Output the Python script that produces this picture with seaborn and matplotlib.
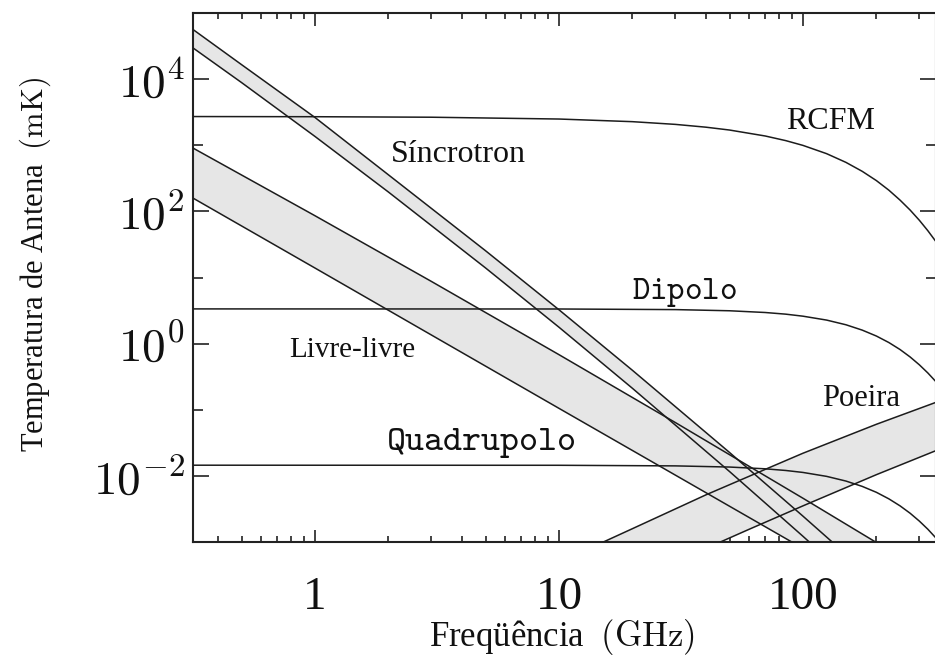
import matplotlib
matplotlib.use("Agg")
import matplotlib.pyplot as plt
from matplotlib.ticker import FixedLocator, FixedFormatter, NullFormatter
import seaborn as sns

# ---------------- data ----------------
freq_rcfm = [0.316, 1, 3, 10, 20, 30, 40, 50, 70, 85, 100, 125, 150, 175,
             200, 225, 250, 275, 300, 325, 350]
rcfm = [2717, 2701, 2654, 2492, 2273, 2068, 1876, 1699, 1381, 1175, 995, 746,
        551, 403, 292, 209, 148, 104.6, 73.3, 51.0, 35.3]

freq_multipolo = [0.316, 10, 30, 50, 70, 85, 100, 125, 150, 175, 200, 225,
                  250, 275, 300, 325, 350]
dipolo = [3.35, 3.34, 3.27, 3.14, 2.956, 2.79, 2.60, 2.27, 1.929, 1.60, 1.302,
          1.038, 0.814, 0.628, 0.478, 0.360, 0.268]
quadrupolo = [0.0145, 0.01446, 0.01416, 0.0136, 0.01279, 0.01207, 0.01127,
              0.00983, 0.00835, 0.00693, 0.00564, 0.00449, 0.00352, 0.00272,
              0.00207, 0.00156, 0.00116]

freq_sincrotron = [0.316, 0.5, 1, 2, 5, 10, 20, 50, 100, 150]
sincrotron_alto = [56400, 16560, 2630, 357, 25.4, 3.25, 0.395, 0.0226,
                   0.00246, 0.000655]
sincrotron_baixo = [29700, 8870, 1358, 196, 13.95, 1.77, 0.211, 0.01164,
                    0.00122, 0.000317]

freq_livre_alto = [0.316, 1, 3, 10, 30, 100, 350]
livre_alto = [908, 85.9, 8.72, 0.681, 0.064, 0.00459, 0.000283]
freq_livre_baixo = [0.316, 1, 3, 10, 30, 100]
livre_baixo = [159, 13.9, 1.35, 0.105, 0.01026, 0.0008]

freq_poeira_alto = [14, 20, 40, 70, 100, 200, 350]
poeira_alto = [0.00087, 0.00159, 0.00516, 0.01253, 0.0220, 0.0603, 0.129]
freq_poeira_baixo = [40, 60, 100, 200, 350]
poeira_baixo = [0.0008, 0.00155, 0.00352, 0.01043, 0.024]

x_ticks = [1, 10, 100]
x_tick_labels = ["1", "10", "100"]
x_minor = [0.4, 0.5, 0.6, 0.7, 0.8, 0.9, 2, 3, 4, 5, 6, 7, 8, 9,
           20, 30, 40, 50, 60, 70, 80, 90, 200, 300]
y_ticks = [1e-2, 1, 1e2, 1e4]
y_tick_labels = [r"$10^{-2}$", r"$10^{0}$", r"$10^{2}$", r"$10^{4}$"]
y_minor = [1e-1, 1e1, 1e3]

# ---------------- style ----------------
sns.set_theme(style="ticks")
plt.rcParams["font.family"] = ["Liberation Serif", "DejaVu Serif"]
plt.rcParams["mathtext.fontset"] = "cm"
plt.rcParams["axes.unicode_minus"] = True

LINE = "#1c1c1c"
FILL = "#e6e6e6"
LW = 1.1

fig = plt.figure(figsize=(9.35, 6.6), dpi=100)
ax = fig.add_axes([193 / 935, 1 - 542 / 660, 743 / 935, 529 / 660])
ax.set_xscale("log")
ax.set_yscale("log")
ax.set_xlim(0.3162, 351)
ax.set_ylim(1e-3, 1e5)

# bands
ax.fill(freq_sincrotron + freq_sincrotron[::-1],
        sincrotron_alto + sincrotron_baixo[::-1],
        color=FILL, lw=0, zorder=1)
ax.fill(freq_livre_alto + freq_livre_baixo[::-1],
        livre_alto + livre_baixo[::-1],
        color=FILL, lw=0, zorder=1)
ax.fill(freq_poeira_alto + freq_poeira_baixo[::-1],
        poeira_alto + poeira_baixo[::-1],
        color=FILL, lw=0, zorder=1)

curves = [
    (freq_rcfm, rcfm),
    (freq_multipolo, dipolo),
    (freq_multipolo, quadrupolo),
    (freq_sincrotron, sincrotron_alto),
    (freq_sincrotron, sincrotron_baixo),
    (freq_livre_alto, livre_alto),
    (freq_livre_baixo, livre_baixo),
    (freq_poeira_alto, poeira_alto),
    (freq_poeira_baixo, poeira_baixo),
]
for xs, ys in curves:
    sns.lineplot(x=xs, y=ys, ax=ax, color=LINE, linewidth=LW,
                 estimator=None, sort=False, legend=False, zorder=3)

# ticks
ax.xaxis.set_major_locator(FixedLocator(x_ticks))
ax.xaxis.set_major_formatter(FixedFormatter(x_tick_labels))
ax.xaxis.set_minor_locator(FixedLocator(x_minor))
ax.xaxis.set_minor_formatter(NullFormatter())
ax.yaxis.set_major_locator(FixedLocator(y_ticks))
ax.yaxis.set_major_formatter(FixedFormatter(y_tick_labels))
ax.yaxis.set_minor_locator(FixedLocator(y_minor))
ax.yaxis.set_minor_formatter(NullFormatter())

ax.tick_params(which="both", direction="in", top=True, right=True,
               color="#222222", width=1.2)
ax.tick_params(axis="x", which="major", length=9, pad=25, labelsize=34,
               labelcolor="#111111")
ax.tick_params(axis="x", which="minor", length=4.5)
ax.tick_params(axis="y", which="major", length=11.5, pad=6, labelsize=34,
               labelcolor="#111111")
ax.tick_params(axis="y", which="minor", length=7)
for s in ax.spines.values():
    s.set_color("#222222")
    s.set_linewidth(1.5)

# axis labels
ax.set_xlabel(r"Freqüência $\;\mathrm{(GHz)}$", fontsize=25, color="#111111")
ax.xaxis.set_label_coords((562 - 193) / 743, (542 - 637) / 529)
ax.xaxis.label.set_va("center")
ax.set_ylabel(r"Temperatura de Antena $\;\mathrm{(mK)}$", fontsize=22,
              color="#111111", va="center", ha="center")
ax.yaxis.set_label_coords((35 - 193) / 743, (542 - 265) / 529)

# curve labels (axes-fraction positions)
txt = dict(transform=ax.transAxes, ha="center", va="center", color="#111111",
           zorder=5)
ax.text(0.3567, 0.7316, "Síncrotron", fontsize=23, **txt)
ax.text(0.8587, 0.7940, "RCFM", fontsize=23, **txt)
ax.text(0.2140, 0.3629, "Livre-livre", fontsize=21, **txt)
ax.text(0.8990, 0.2722, "Poeira", fontsize=22, **txt)
ax.text(0.6622, 0.4707, r"$\mathtt{Dipolo}$", fontsize=24, **txt)
ax.text(0.3876, 0.1871, r"$\mathtt{Quadrupolo}$", fontsize=26, **txt)

fig.savefig("out.png", dpi=100)
